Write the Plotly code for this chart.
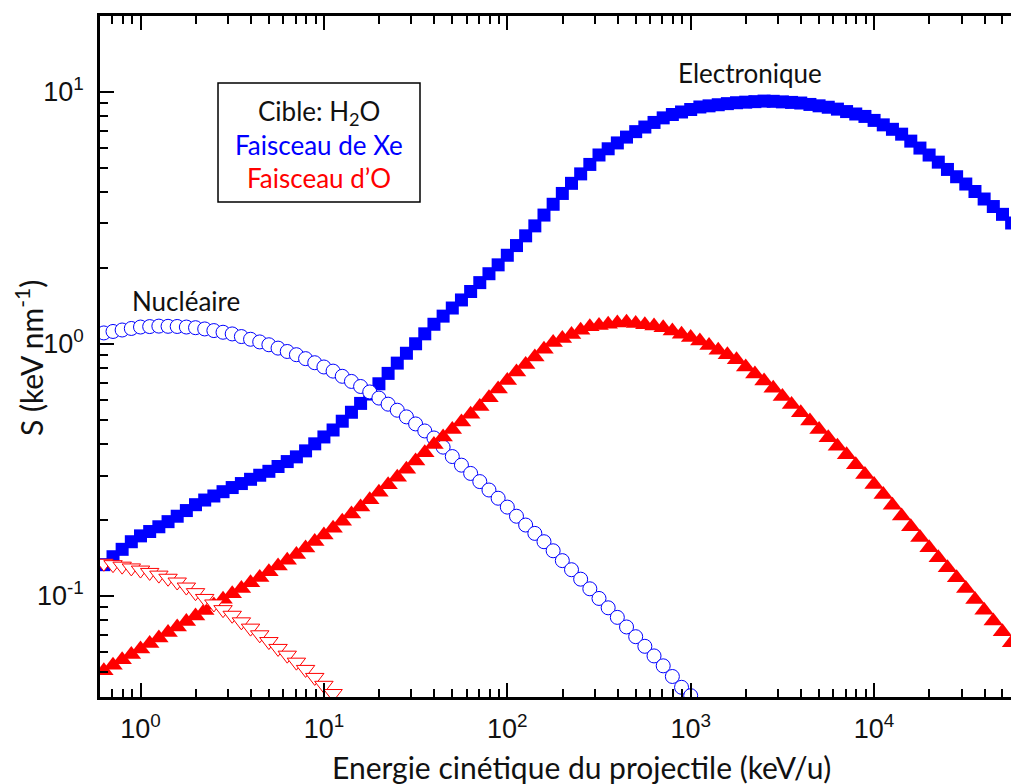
import plotly.graph_objects as go

# ---------------- data ----------------
# kinetic energy grid (keV/u) used by the electronic stopping curves
energy_elec = [
    0.631, 0.708, 0.794, 0.891,
    1.0, 1.122, 1.259, 1.413, 1.585, 1.778, 1.995, 2.239, 2.512, 2.818,
    3.162, 3.548, 3.981, 4.467, 5.012, 5.623, 6.31, 7.079, 7.943, 8.913,
    10.0, 11.22, 12.59, 14.13, 15.85, 17.78, 19.95, 22.39, 25.12, 28.18,
    31.62, 35.48, 39.81, 44.67, 50.12, 56.23, 63.1, 70.79, 79.43, 89.13,
    100, 112.2, 125.9, 141.3, 158.5, 177.8, 199.5, 223.9, 251.2, 281.8,
    316.2, 354.8, 398.1, 446.7, 501.2, 562.3, 631, 707.9, 794.3, 891.3,
    1000, 1122, 1259, 1413, 1585, 1778, 1995, 2239, 2512, 2818,
    3162, 3548, 3981, 4467, 5012, 5623, 6310, 7079, 7943, 8913,
    10000, 11220, 12590, 14130, 15850, 17780, 19950, 22390, 25120, 28180,
    31620, 35480, 39810, 44670, 50120, 56230, 63100,
]

# Xe beam, electronic stopping (keV/nm)
s_xe_elec = [
    0.133, 0.143, 0.153, 0.164,
    0.173, 0.180, 0.188, 0.197, 0.207, 0.218, 0.230, 0.240, 0.249, 0.259,
    0.269, 0.279, 0.290, 0.301, 0.312, 0.326, 0.341, 0.356, 0.376, 0.401,
    0.427, 0.455, 0.493, 0.535, 0.580, 0.632, 0.694, 0.763, 0.838, 0.917,
    1.00, 1.095, 1.195, 1.287, 1.386, 1.492, 1.612, 1.748, 1.896, 2.056,
    2.244, 2.452, 2.680, 2.935, 3.239, 3.575, 3.946, 4.328, 4.718, 5.144,
    5.607, 5.934, 6.260, 6.603, 6.940, 7.238, 7.548, 7.870, 8.117, 8.304,
    8.496, 8.692, 8.783, 8.872, 8.962, 9.037, 9.083, 9.127, 9.173, 9.154,
    9.108, 9.062, 9.012, 8.897, 8.785, 8.672, 8.524, 8.336, 8.153, 7.974,
    7.689, 7.383, 7.089, 6.781, 6.364, 5.973, 5.605, 5.252, 4.914, 4.597,
    4.301, 4.017, 3.751, 3.502, 3.261, 3.013, 2.785,
]

# O beam, electronic stopping (keV/nm)
s_o_elec = [
    0.0505, 0.0531, 0.0558, 0.0586,
    0.0616, 0.0648, 0.0681, 0.0716, 0.0753, 0.0792, 0.0833, 0.0876, 0.0921, 0.0969,
    0.1019, 0.1071, 0.1127, 0.1184, 0.1246, 0.1314, 0.1385, 0.1460, 0.1547, 0.1642,
    0.1745, 0.1854, 0.1978, 0.2112, 0.2254, 0.2407, 0.2577, 0.2758, 0.2953, 0.3177,
    0.3426, 0.3694, 0.3982, 0.4266, 0.4571, 0.4898, 0.5248, 0.5641, 0.6106, 0.6610,
    0.7156, 0.7725, 0.8278, 0.8870, 0.9502, 1.0107, 1.0491, 1.0892, 1.1305, 1.1674,
    1.1809, 1.1943, 1.2082, 1.2162, 1.2023, 1.1888, 1.1752, 1.1570, 1.1233, 1.0906,
    1.0590, 1.0257, 0.9833, 0.9428, 0.9040, 0.8633, 0.8097, 0.7590, 0.7117, 0.6667,
    0.6185, 0.5740, 0.5326, 0.4941, 0.4575, 0.4236, 0.3923, 0.3629, 0.3314, 0.3028,
    0.2765, 0.2525, 0.2289, 0.2074, 0.1879, 0.1703, 0.1553, 0.1417, 0.1293, 0.1180,
    0.1069, 0.0968, 0.0877, 0.0795, 0.0720, 0.0652, 0.0590,
]

# Xe beam, nuclear stopping
energy_xe_nuc = [
    0.631, 0.708, 0.794, 0.891,
    1.0, 1.122, 1.259, 1.413, 1.585, 1.778, 1.995, 2.239, 2.512, 2.818,
    3.162, 3.548, 3.981, 4.467, 5.012, 5.623, 6.31, 7.079, 7.943, 8.913,
    10.0, 11.22, 12.59, 14.13, 15.85, 17.78, 19.95, 22.39, 25.12, 28.18,
    31.62, 35.48, 39.81, 44.67, 50.12, 56.23, 63.1, 70.79, 79.43, 89.13,
    100, 112.2, 125.9, 141.3, 158.5, 177.8, 199.5, 223.9, 251.2, 281.8,
    316.2, 354.8, 398.1, 446.7, 501.2, 562.3, 631, 707.9, 794.3, 891.3,
    1000,
]
s_xe_nuc = [
    1.104, 1.119, 1.134, 1.150,
    1.165, 1.170, 1.175, 1.173, 1.171, 1.165, 1.158, 1.145, 1.128, 1.111,
    1.094, 1.068, 1.042, 1.017, 0.991, 0.961, 0.932, 0.905, 0.873, 0.841,
    0.809, 0.779, 0.743, 0.709, 0.677, 0.644, 0.609, 0.576, 0.545, 0.513,
    0.481, 0.451, 0.423, 0.389, 0.357, 0.330, 0.306, 0.284, 0.263, 0.244,
    0.225, 0.207, 0.191, 0.177, 0.164, 0.151, 0.138, 0.127, 0.1165, 0.1067,
    0.0977, 0.0897, 0.0822, 0.0753, 0.0689, 0.0631, 0.0578, 0.0528, 0.0479, 0.0434,
    0.0402,
]

# O beam, nuclear stopping
energy_o_nuc = [
    0.631, 0.708, 0.794, 0.891,
    1.0, 1.122, 1.259, 1.413, 1.585, 1.778, 1.995, 2.239, 2.512, 2.818,
    3.162, 3.548, 3.981, 4.467, 5.012, 5.623, 6.31, 7.079, 7.943, 8.913,
    10.0, 11.22,
]
s_o_nuc = [
    0.1347, 0.1330, 0.1312, 0.1291,
    0.1266, 0.1239, 0.1209, 0.1175, 0.1135, 0.1084, 0.1030, 0.0977, 0.0929, 0.0882,
    0.0838, 0.0789, 0.0745, 0.0701, 0.0659, 0.0619, 0.0582, 0.0546, 0.0511, 0.0475,
    0.0442, 0.0410,
]

x_tickvals = [1, 10, 100, 1000, 10000]
x_ticktext = ["10<sup>0</sup>", "10<sup>1</sup>", "10<sup>2</sup>", "10<sup>3</sup>", "10<sup>4</sup>"]
y_tickvals = [0.1, 1, 10]
y_ticktext = ["10<sup>-1</sup>", "10<sup>0</sup>", "10<sup>1</sup>"]

x_title = "Energie cinétique du projectile (keV/u)"
y_title = "S (keV nm<sup>-1</sup>)"

# ---------------- figure ----------------
BLUE = "#0000ff"
RED = "#ff0000"
TEXT_COLOR = "#111111"
TEXT_FONT = "Lato"
TICK_FONT = "Liberation Sans"

fig = go.Figure()

fig.add_trace(go.Scatter(
    x=energy_elec, y=s_xe_elec, mode="markers", name="Xe électronique",
    marker=dict(symbol="square", size=13, color=BLUE, line=dict(width=0)),
))
fig.add_trace(go.Scatter(
    x=energy_xe_nuc, y=s_xe_nuc, mode="markers", name="Xe nucléaire",
    marker=dict(symbol="circle", size=14, color="white", line=dict(width=1, color=BLUE)),
))
fig.add_trace(go.Scatter(
    x=energy_elec, y=s_o_elec, mode="markers", name="O électronique",
    marker=dict(symbol="triangle-up", size=17, color=RED, line=dict(width=0)),
))
fig.add_trace(go.Scatter(
    x=energy_o_nuc, y=s_o_nuc, mode="markers", name="O nucléaire",
    marker=dict(symbol="triangle-down", size=16, color="white", line=dict(width=1, color=RED)),
))

minor_x = [m * 10 ** d for d in range(-1, 5) for m in range(2, 10)]
minor_y = [m * 10 ** d for d in range(-2, 2) for m in range(2, 10)]

axis_common = dict(
    type="log",
    showgrid=False,
    zeroline=False,
    showline=True,
    linecolor="black",
    linewidth=2.5,
    mirror="allticks",
    ticks="inside",
    ticklen=14,
    tickwidth=2,
    tickcolor="black",
    tickfont=dict(family=TICK_FONT, size=27, color=TEXT_COLOR),
    automargin=False,
)

fig.update_xaxes(
    **axis_common,
    range=[-0.2209, 4.8337],
    tickmode="array", tickvals=x_tickvals, ticktext=x_ticktext,
    minor=dict(tickmode="array", tickvals=minor_x, ticks="inside", ticklen=8,
               tickwidth=2, tickcolor="black", showgrid=False),
    ticklabelstandoff=6,
)
fig.update_yaxes(
    **axis_common,
    range=[-1.401, 1.300],
    tickmode="array", tickvals=y_tickvals, ticktext=y_ticktext,
    minor=dict(tickmode="array", tickvals=minor_y, ticks="inside", ticklen=8,
               tickwidth=2, tickcolor="black", showgrid=False),
    ticklabelstandoff=8,
)

# axis titles placed as annotations for exact positioning
fig.add_annotation(text=x_title, x=0.5199, y=-0.1035, xref="paper", yref="paper",
                   showarrow=False, xanchor="center", yanchor="middle",
                   font=dict(family=TEXT_FONT, size=30, color=TEXT_COLOR))
fig.add_annotation(text=y_title, x=-0.0766, y=0.4978, xref="paper", yref="paper",
                   showarrow=False, xanchor="center", yanchor="middle", textangle=-90,
                   font=dict(family=TEXT_FONT, size=30, color=TEXT_COLOR))

fig.add_shape(type="rect", xref="paper", yref="paper",
              x0=0.1273, x1=0.3452, y0=0.7269, y1=0.9016,
              line=dict(color="black", width=1.5), fillcolor="white", layer="above")

ann_font = dict(family=TEXT_FONT, size=26)
fig.add_annotation(text="Cible: H<sub>2</sub>O", x=0.2362, y=0.859, xref="paper", yref="paper",
                   showarrow=False, xanchor="center", yanchor="middle",
                   font=dict(**ann_font, color=TEXT_COLOR))
fig.add_annotation(text="Faisceau de Xe", x=0.2362, y=0.8106, xref="paper", yref="paper",
                   showarrow=False, xanchor="center", yanchor="middle",
                   font=dict(**ann_font, color=BLUE))
fig.add_annotation(text="Faisceau d\u2019O", x=0.2362, y=0.7621, xref="paper", yref="paper",
                   showarrow=False, xanchor="center", yanchor="middle",
                   font=dict(**ann_font, color=RED))
fig.add_annotation(text="Electronique", x=0.7012, y=0.9163, xref="paper", yref="paper",
                   showarrow=False, xanchor="center", yanchor="middle",
                   font=dict(**ann_font, color=TEXT_COLOR))
fig.add_annotation(text="Nucléaire", x=0.0928, y=0.5815, xref="paper", yref="paper",
                   showarrow=False, xanchor="center", yanchor="middle",
                   font=dict(**ann_font, color=TEXT_COLOR))

# the page adds an 8px body margin; the plot frame runs a little past the right edge
fig.update_layout(
    width=1019, height=776,
    margin=dict(l=92, r=0, t=8, b=87),
    paper_bgcolor="white", plot_bgcolor="white",
    showlegend=False,
)

fig.write_html("out.html")
